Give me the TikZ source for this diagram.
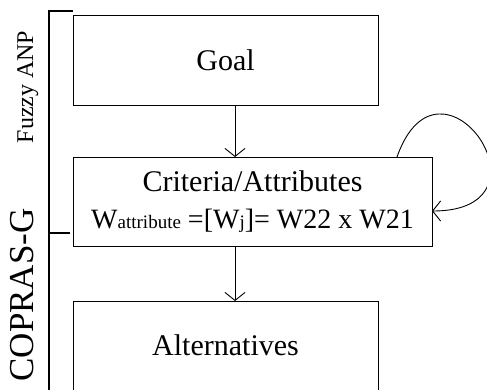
\documentclass[tikz,border=0pt]{standalone}
\usepackage{fontspec}
\setmainfont{Liberation Serif}
\usetikzlibrary{arrows.meta,calc}
\begin{document}
\begin{tikzpicture}[x=1pt,y=-1pt,
  box/.style={draw=black, line width=1pt, inner sep=0pt, outer sep=0pt,
    align=center, font=\fontsize{30pt}{37pt}\selectfont},
  flow/.style={draw=black, line width=0.9pt,
    -{Straight Barb[length=8pt,width=20pt,line width=0.9pt]}},
  bracket/.style={draw=black, line width=1.8pt},
  tick/.style={draw=black, line width=1.5pt},
  method/.style={rotate=90, anchor=base, inner sep=0pt}]
\useasboundingbox (0,0) rectangle (487,389);
\clip (0,0) rectangle (487,389);

% the three levels of the hierarchy
\node[box, minimum width=305pt, minimum height=90pt] (goal) at (225.5,60) {Goal};
\node[box, minimum width=359pt, minimum height=89pt] (crit) at (252.5,201.5)
  {Criteria/Attributes\\
   {\fontsize{28pt}{37pt}\selectfont W{\fontsize{19pt}{19pt}\selectfont attribute}
    =[W{\fontsize{19pt}{19pt}\selectfont j}]= W22 x W21}};
\node[box, minimum width=305pt, minimum height=89pt] (alt) at (225.5,345.5) {Alternatives};

% vertical flow between levels
\coordinate (ax) at (235,0);
\draw[flow] (goal.south -| ax) -- (crit.north -| ax);
\draw[flow] (crit.south -| ax) -- (alt.north -| ax);

% feedback loop on the criteria level
\coordinate (lx) at (397,0);
\coordinate (ls) at (crit.north -| lx);
\coordinate (le) at ($(crit.east)+(0,9.5)$);
\draw[flow] (ls) .. controls ($(ls)+(43,-122)$) and ($(le)+(130,0)$) .. (le);

% method bracket on the left
\draw[bracket] (73,11) -- (49,11) -- (49,395);
\draw[tick] (49,233) -- (70,233);
\node[method, font=\fontsize{24pt}{24pt}\selectfont] (fanp) at (33,87) {Fuzzy ANP};
\node[method, font=\fontsize{35pt}{35pt}\selectfont] (copras) at (33,295) {COPRAS-G};
\end{tikzpicture}
\end{document}
